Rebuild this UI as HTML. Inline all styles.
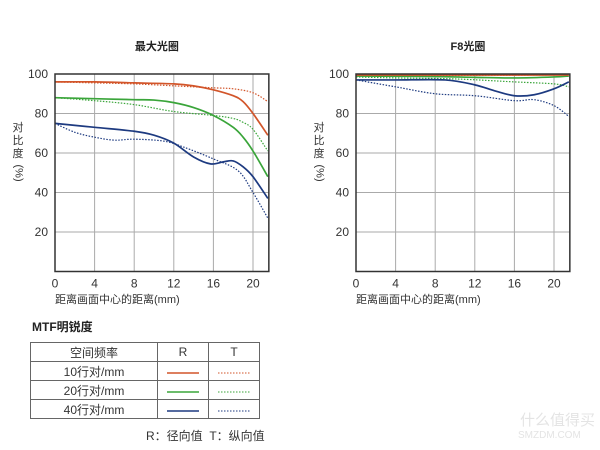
<!DOCTYPE html>
<html><head><meta charset="utf-8">
<style>
body{margin:0;background:#fff;font-family:"Liberation Sans","Noto Sans CJK SC",sans-serif;}
#wrap{position:relative;width:600px;height:450px;overflow:hidden;}
svg text{font-family:"Liberation Sans","Noto Sans CJK SC",sans-serif;}
table{position:absolute;left:30px;top:342px;border-collapse:collapse;font-size:12px;color:#333;}
td{border:1px solid #666;height:18px;padding:0;text-align:center;}
.ytitle{position:absolute;top:122px;width:14px;font-size:11px;color:#333;line-height:13px;text-align:center;}
.ytitle .rot{display:block;transform:rotate(90deg);margin-top:4px;width:14px;white-space:nowrap;}
</style></head><body>
<div id="wrap">
<svg id="svg" width="600" height="340" style="position:absolute;left:0;top:0"></svg>
<div class="ytitle" style="left:11px">对<br>比<br>度<span class="rot">(%)</span></div>
<div class="ytitle" style="left:312px">对<br>比<br>度<span class="rot">(%)</span></div>
<div style="position:absolute;left:32px;top:318px;font-size:12px;font-weight:bold;color:#222">MTF明锐度</div>
<table>
<tr><td style="width:126px">空间频率</td><td style="width:50px">R</td><td style="width:50px">T</td></tr>
<tr><td>10行对/mm</td><td><svg width="32" height="4"><line x1="0" y1="2" x2="32" y2="2" stroke="#d2552a" stroke-width="1.5"/></svg></td><td><svg width="32" height="4"><line x1="0" y1="2" x2="32" y2="2" stroke="#d2552a" stroke-width="1" stroke-dasharray="1.5,1.5"/></svg></td></tr>
<tr><td>20行对/mm</td><td><svg width="32" height="4"><line x1="0" y1="2" x2="32" y2="2" stroke="#3aa53a" stroke-width="1.5"/></svg></td><td><svg width="32" height="4"><line x1="0" y1="2" x2="32" y2="2" stroke="#3aa53a" stroke-width="1" stroke-dasharray="1.5,1.5"/></svg></td></tr>
<tr><td>40行对/mm</td><td><svg width="32" height="4"><line x1="0" y1="2" x2="32" y2="2" stroke="#1d3a80" stroke-width="1.5"/></svg></td><td><svg width="32" height="4"><line x1="0" y1="2" x2="32" y2="2" stroke="#1d3a80" stroke-width="1" stroke-dasharray="1.5,1.5"/></svg></td></tr>
</table>
<div style="position:absolute;left:146px;top:427px;font-size:12px;color:#333">R：径向值&nbsp; T：纵向值</div>
<div style="position:absolute;left:520px;top:409px;font-size:15px;color:#e4e4e4">什么值得买</div>
<div style="position:absolute;left:518px;top:430px;font-size:10px;color:#e4e4e4">SMZDM.COM</div>
</div>
<script>
const xTicks=[0,4,8,12,16,20];
const yTicks=[20,40,60,80,100];
const leftR10X=[0,4,8,12,14,16,18,19,20,21.5];
const leftR10Y=[96,96,95.5,95,94,92,89,86,80,69];
const leftT10X=[0,4,8,12,16,18,20,21.5];
const leftT10Y=[96,95.5,95,94,93,92.5,90.5,86];
const leftR20X=[0,4,8,10,12,14,16,18,19,20,21.5];
const leftR20Y=[88,87.5,87,86.8,85.5,83,79,73,68,61,48];
const leftT20X=[0,4,8,12,16,18,19,20,21.5];
const leftT20Y=[88,86.5,84.5,81,79,77.5,75.5,72,61];
const leftR40X=[0,4,8,10,12,14,15.7,17,18,19,20,21.5];
const leftR40Y=[75,73,71,69,65,58,54.5,55.5,56,53,48,37];
const leftT40X=[0,2,4,6,8,11,13,16,18.5,20,21.5];
const leftT40Y=[75,70.5,68,66.5,67,66,63,57,51,40,27];
const rightR10X=[0,8,16,21.5];
const rightR10Y=[99.5,99.5,99.5,99.5];
const rightT10X=[0,8,16,21.5];
const rightT10Y=[99,99.2,99.4,99.6];
const rightR20X=[0,8,12,16,20,21.5];
const rightR20Y=[99,98.7,98.3,98,98.5,99];
const rightT20X=[0,4,10,16,20,21.5];
const rightT20Y=[98.5,98,97.5,96,95,93.5];
const rightR40X=[0,4,9,12,14,16,18,20,21.5];
const rightR40Y=[97,97,97,94.5,91.5,89,89.5,92.5,96];
const rightT40X=[0,4,8,12,16,18,20,21.5];
const rightT40Y=[97,93.5,90,89,86.5,87,84,78.5];

const NS="http://www.w3.org/2000/svg";
const svg=document.getElementById('svg');
function mk(t,a,p){const e=document.createElementNS(NS,t);for(const k in a)e.setAttribute(k,a[k]);(p||svg).appendChild(e);return e;}
function smooth(pts){let d="M"+pts[0][0]+","+pts[0][1];for(let i=0;i<pts.length-1;i++){const p0=pts[i-1]||pts[i],p1=pts[i],p2=pts[i+1],p3=pts[i+2]||p2;
const c1=[p1[0]+(p2[0]-p0[0])/6,p1[1]+(p2[1]-p0[1])/6],c2=[p2[0]-(p3[0]-p1[0])/6,p2[1]-(p3[1]-p1[1])/6];
d+=" C"+c1[0]+","+c1[1]+" "+c2[0]+","+c2[1]+" "+p2[0]+","+p2[1];}return d;}
function chart(x0,title,name,series){
  const pxPerMm=9.9, xMax=21.6;
  const X=v=>x0+v*pxPerMm, Y=v=>271.5-v*1.975;
  const g=mk('g',{});
  
  
  const t=mk('text',{x:X(xMax/2)+(name==='chart-max-aperture'?-5:5),y:50,'font-size':11,'font-weight':'bold','text-anchor':'middle',fill:'#222'},g);t.textContent=title;
  
  xTicks.forEach(v=>{if(v>0){const l=mk('line',{x1:X(v),x2:X(v),y1:Y(100),y2:Y(0),stroke:'#aaa','stroke-width':1},g);}
    const tx=mk('text',{x:X(v),y:Y(0)+16,'font-size':12,'text-anchor':'middle',fill:'#333'},g);tx.textContent=v;
    });
  yTicks.forEach(v=>{if(v<100){const l=mk('line',{x1:X(0),x2:X(xMax),y1:Y(v),y2:Y(v),stroke:'#aaa','stroke-width':1},g);}
    const tx=mk('text',{x:X(0)-7,y:Y(v)+4,'font-size':12,'text-anchor':'end',fill:'#333'},g);tx.textContent=v;
    });
  series.forEach(s=>{const pts=s.x.map((v,i)=>[X(v),Y(s.y[i])]);
    const p=mk('path',{d:smooth(pts),fill:'none',stroke:s.c,'stroke-width':s.dash?1.2:1.7},g);
    if(s.dash)p.setAttribute('stroke-dasharray','1.5,1.5');
    });
  const f=mk('rect',{x:X(0),y:Y(100),width:X(xMax)-X(0),height:Y(0)-Y(100),fill:'none',stroke:'#333','stroke-width':1.5},g);
  
  const xl=mk('text',{x:X(0),y:303,'font-size':11,fill:'#333'},g);xl.textContent='距离画面中心的距离(mm)';
  
}
const RC='#d2552a',GC='#3aa53a',BC='#1d3a80';
chart(55,'最大光圈','chart-max-aperture',[
 {x:leftT10X,y:leftT10Y,c:RC,dash:1,n:'t10-line'},{x:leftT20X,y:leftT20Y,c:GC,dash:1,n:'t20-line'},{x:leftT40X,y:leftT40Y,c:BC,dash:1,n:'t40-line'},
 {x:leftR10X,y:leftR10Y,c:RC,n:'r10-line'},{x:leftR20X,y:leftR20Y,c:GC,n:'r20-line'},{x:leftR40X,y:leftR40Y,c:BC,n:'r40-line'}]);
chart(356,'F8光圈','chart-f8',[
 {x:rightT10X,y:rightT10Y,c:RC,dash:1,n:'t10-line'},{x:rightT20X,y:rightT20Y,c:GC,dash:1,n:'t20-line'},{x:rightT40X,y:rightT40Y,c:BC,dash:1,n:'t40-line'},
 {x:rightR20X,y:rightR20Y,c:GC,n:'r20-line'},{x:rightR10X,y:rightR10Y,c:RC,n:'r10-line'},{x:rightR40X,y:rightR40Y,c:BC,n:'r40-line'}]);
</script>
</body></html>
